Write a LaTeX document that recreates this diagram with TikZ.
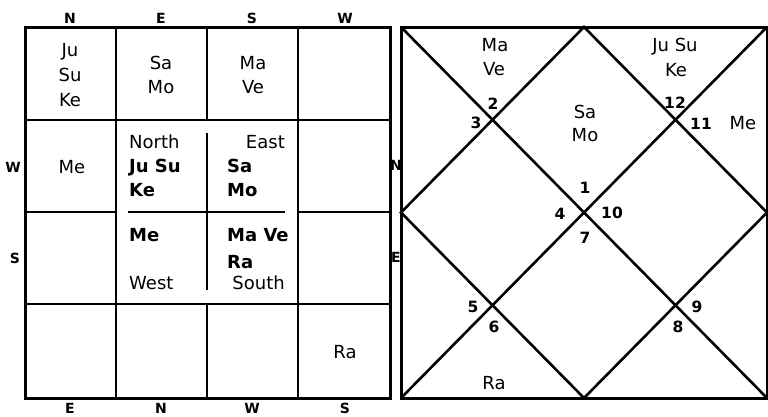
\documentclass[tikz,border=0pt]{standalone}
\usepackage{fontspec}
\setmainfont{DejaVu Sans}
\begin{document}
\begin{tikzpicture}[x=1pt,y=-1pt,
	planet/.style={font=\fontsize{18}{21}\selectfont, inner sep=0pt, anchor=base},
	bplanet/.style={font=\bfseries\fontsize{18}{21}\selectfont, inner sep=0pt, anchor=base west},
	house/.style={font=\bfseries\fontsize{15.5}{17}\selectfont, inner sep=0pt, anchor=base},
	dirn/.style={font=\bfseries\fontsize{14}{15}\selectfont, inner sep=0pt, anchor=base},
	frame/.style={line width=3pt},
	cell/.style={line width=2.6pt},
	thin/.style={line width=1.6pt}]
	\useasboundingbox (0,0) rectangle (768,416);
	% directions round the south indian chart
	\node[dirn] (dn1) at (70,23) {N};
	\node[dirn] (de1) at (161,23) {E};
	\node[dirn] (ds1) at (252,23) {S};
	\node[dirn] (dw1) at (345,23) {W};
	\node[dirn] (de2) at (70,413) {E};
	\node[dirn] (dn2) at (161,413) {N};
	\node[dirn] (dw2) at (252,413) {W};
	\node[dirn] (ds2) at (345,413) {S};
	\node[dirn] (dw3) at (13,172) {W};
	\node[dirn] (ds3) at (15,263) {S};
	\node[dirn] (dn3) at (396,170) {N};
	\node[dirn] (de3) at (396,262) {E};
	% south indian chart
	\draw[frame] (25,27) rectangle (390,398);
	\draw[cell] (25,120) -- (390,120);
	\draw[cell] (25,304) -- (390,304);
	\draw[cell] (25,212) -- (116,212);
	\draw[cell] (298,212) -- (390,212);
	\draw[cell] (116,27) -- (116,398);
	\draw[cell] (298,27) -- (298,398);
	\draw[cell] (207,27) -- (207,120);
	\draw[cell] (207,304) -- (207,398);
	\draw[thin] (128,212) -- (285,212);
	\draw[thin] (207,133) -- (207,290);
	\node[planet] (lju) at (70,56.5) {Ju};
	\node[planet] (lsu) at (70,81.5) {Su};
	\node[planet] (lke) at (70,106) {Ke};
	\node[planet] (lsa) at (161,69.5) {Sa};
	\node[planet] (lmo) at (161,93.5) {Mo};
	\node[planet] (lma) at (253,69.5) {Ma};
	\node[planet] (lve) at (253,93.5) {Ve};
	\node[planet] (lme) at (72,173.5) {Me};
	\node[planet] (lra) at (345,358.5) {Ra};
	% centre squares
	\node[planet, anchor=base west] (north) at (129,148.5) {North};
	\node[planet, anchor=base east] (east) at (285,148.5) {East};
	\node[planet, anchor=base west] (west) at (129,289.5) {West};
	\node[planet, anchor=base east] (south) at (285,289.5) {South};
	\node[bplanet] (cjusu) at (129,172.5) {Ju Su};
	\node[bplanet] (cke) at (129,196.5) {Ke};
	\node[bplanet] (csa) at (227,172.5) {Sa};
	\node[bplanet] (cmo) at (227,196.5) {Mo};
	\node[bplanet] (cme) at (129,241.5) {Me};
	\node[bplanet] (cmave) at (227,241.5) {Ma Ve};
	\node[bplanet] (cra) at (227,268.5) {Ra};
	% north indian chart
	\coordinate (tl) at (401,27);
	\coordinate (tr) at (767,27);
	\coordinate (br) at (767,398);
	\coordinate (bl) at (401,398);
	\coordinate (tm) at (584,27);
	\coordinate (rm) at (767,212.5);
	\coordinate (bm) at (584,398);
	\coordinate (lm) at (401,212.5);
	\draw[frame] (tl) rectangle (br);
	\draw[cell] (tl) -- (br);
	\draw[cell] (tr) -- (bl);
	\draw[cell] (tm) -- (rm) -- (bm) -- (lm) -- cycle;
	\node[house] (h1) at (585,193.5) {1};
	\node[house] (h2) at (493,109.5) {2};
	\node[house] (h3) at (476,128.5) {3};
	\node[house] (h4) at (560,219.5) {4};
	\node[house] (h5) at (473,312.5) {5};
	\node[house] (h6) at (494,332.5) {6};
	\node[house] (h7) at (585,243.5) {7};
	\node[house] (h8) at (678,332.5) {8};
	\node[house] (h9) at (697,312.5) {9};
	\node[house] (h10) at (612,218.5) {10};
	\node[house] (h11) at (701,129.5) {11};
	\node[house] (h12) at (675,108.5) {12};
	\node[planet] (rma) at (495,51.5) {Ma};
	\node[planet] (rve) at (494,75.5) {Ve};
	\node[planet] (rjusu) at (675,51.5) {Ju Su};
	\node[planet] (rke) at (676,76.5) {Ke};
	\node[planet] (rsa) at (585,118.5) {Sa};
	\node[planet] (rmo) at (585,141.5) {Mo};
	\node[planet] (rme) at (743,129.5) {Me};
	\node[planet] (rra) at (494,389.5) {Ra};
\end{tikzpicture}
\end{document}
